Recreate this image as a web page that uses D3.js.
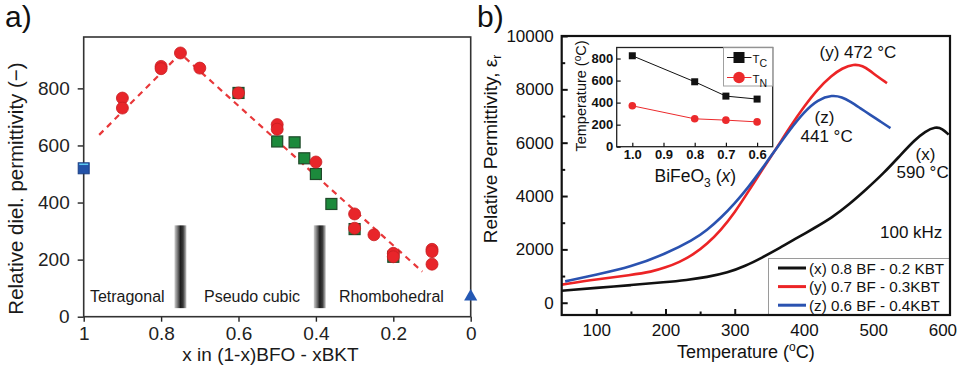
<!DOCTYPE html>
<html>
<head>
<meta charset="utf-8">
<script src="https://cdn.jsdelivr.net/npm/d3@7"></script>
<style>
  body { margin: 0; background: #fff; }
  svg { display: block; }
</style>
</head>
<body>
<svg id="fig" width="961" height="368"></svg>
<script>
// ---------- Panel a: permittivity across the (1-x)BFO - xBKT series ----------
const compTicks = [1, 0.8, 0.6, 0.4, 0.2, 0];
const permTicks = [0, 200, 400, 600, 800];
const circleX = [0.9, 0.9, 0.8, 0.8, 0.75, 0.7, 0.6, 0.5, 0.5, 0.4, 0.3, 0.3, 0.25, 0.2, 0.2, 0.1, 0.1, 0.1];
const circleY = [766, 731, 877, 869, 924, 871, 784, 673, 657, 542, 360, 310, 287, 222, 210, 236, 228, 184];
const squareX = [0.6, 0.5, 0.455, 0.43, 0.4, 0.36, 0.3, 0.2];
const squareY = [784, 614, 611, 555, 500, 395, 307, 210];
const trendX = [0.96, 0.75, 0.125];
const trendY = [637, 922, 158];
const bfoPoint = [1, 520];
const bktPoint = [0, 70];
const phaseBoundaries = [0.75, 0.39];
const boundarySpan = [30, 320];
const phaseNames = ["Tetragonal", "Pseudo cubic", "Rhombohedral"];

// ---------- Panel b: permittivity vs temperature at 100 kHz ----------
const tempTicks = [100, 200, 300, 400, 500, 600];
const tempMinor = [150, 250, 350, 450, 550];
const epsTicks = [0, 2000, 4000, 6000, 8000, 10000];
const epsMinor = [1000, 3000, 5000, 7000, 9000];

const tempX = [50, 100, 150, 200, 230, 260, 290, 315, 340, 365, 390, 415, 440, 465, 490, 515, 540, 560, 575, 590, 600, 609];
const epsX  = [450, 560, 660, 770, 850, 960, 1130, 1370, 1700, 2050, 2430, 2800, 3180, 3680, 4250, 4850, 5550, 6100, 6420, 6600, 6530, 6300];

const tempY = [50, 100, 150, 180, 200, 220, 240, 260, 280, 300, 320, 340, 360, 380, 400, 420, 440, 455, 472, 485, 495, 505, 520];
const epsY  = [680, 880, 1040, 1160, 1320, 1520, 1800, 2200, 2720, 3380, 4180, 5000, 5780, 6600, 7350, 8020, 8520, 8790, 8950, 8880, 8710, 8500, 8232];

const tempZ = [55, 100, 150, 200, 240, 260, 280, 300, 320, 340, 360, 380, 400, 420, 441, 455, 467, 481, 496, 510, 525];
const epsZ  = [800, 1050, 1340, 1830, 2353, 2720, 3180, 3720, 4340, 5040, 5780, 6500, 7150, 7620, 7790, 7710, 7542, 7300, 7043, 6800, 6545];

const seriesLabels = ["(x) 0.8 BF - 0.2 KBT", "(y) 0.7 BF - 0.3KBT", "(z) 0.6 BF - 0.4KBT"];

// inset: transition temperatures vs BiFeO3 fraction
const insetComp = [1.0, 0.8, 0.7, 0.6];
const tcValues = [825, 589, 459, 432];
const tnValues = [371, 253, 241, 225];
const insetTempTicks = [0, 200, 400, 600, 800];
const insetCompTicks = [1.0, 0.9, 0.8, 0.7, 0.6];

// ---------------------------------------------------------------------
const FONT = "'Liberation Sans', Arial, Helvetica, sans-serif";
const svg = d3.select("#fig").attr("font-family", FONT);
const defs = svg.append("defs");

const grad = defs.append("linearGradient").attr("id", "boundaryFill")
  .attr("x1", "0%").attr("x2", "100%").attr("y1", "0%").attr("y2", "0%");
[["0%", "#d0d0d0"], ["30%", "#6a6a6a"], ["50%", "#1e1e1e"], ["72%", "#3a3a3a"], ["100%", "#c8c8c8"]]
  .forEach(([o, c]) => grad.append("stop").attr("offset", o).attr("stop-color", c));

function styleAxis(g, size, color, weight) {
  g.attr("font-family", FONT).attr("font-size", size);
  g.selectAll("text").attr("fill", color).attr("font-weight", weight || "normal");
  g.selectAll("line").attr("stroke", color);
}

// ===== Panel a =====
const xA = d3.scaleLinear().domain([1, 0]).range([83.7, 470.7]);
const yA = d3.scaleLinear().domain([0, 980]).range([316.7, 37]);
const gA = svg.append("g");

gA.append("g").attr("transform", `translate(${xA(1)},0)`)
  .call(d3.axisLeft(yA).tickValues(permTicks).tickSize(6).tickSizeOuter(0).tickPadding(8))
  .call(g => { g.select(".domain").remove(); styleAxis(g, 19, "#222"); g.selectAll("line").attr("stroke-width", 1.4); });

gA.append("g").attr("transform", `translate(0,${yA(0)})`)
  .call(d3.axisBottom(xA).tickValues(compTicks).tickSize(5).tickSizeOuter(0).tickPadding(5)
    .tickFormat(d => d3.format("~g")(d)))
  .call(g => { g.select(".domain").remove(); styleAxis(g, 19, "#222"); g.selectAll("line").attr("stroke-width", 1.4); });

gA.append("rect")
  .attr("x", xA(1)).attr("y", yA(980))
  .attr("width", xA(0) - xA(1)).attr("height", yA(0) - yA(980))
  .attr("fill", "none").attr("stroke", "#333").attr("stroke-width", 1.6);

// phase boundary bars
gA.selectAll("rect.boundary").data(phaseBoundaries).join("rect")
  .attr("class", "boundary")
  .attr("x", d => xA(d) - 6).attr("width", 12)
  .attr("y", yA(boundarySpan[1])).attr("height", yA(boundarySpan[0]) - yA(boundarySpan[1]))
  .attr("fill", "url(#boundaryFill)");

// phase names
const phaseAt = [[0.984, "start"], [0.565, "middle"], [0.205, "middle"]];
gA.selectAll("text.phase").data(phaseNames).join("text")
  .attr("class", "phase")
  .attr("x", (d, i) => xA(phaseAt[i][0])).attr("y", 302)
  .attr("text-anchor", (d, i) => phaseAt[i][1])
  .attr("font-size", 16).attr("fill", "#1a1a1a")
  .text(d => d);

// dashed trend line
gA.append("path")
  .datum(trendX.map((x, i) => [x, trendY[i]]))
  .attr("d", d3.line().x(d => xA(d[0])).y(d => yA(d[1])))
  .attr("fill", "none").attr("stroke", "#e8383a").attr("stroke-width", 2.2)
  .attr("stroke-dasharray", "6,5");

// green squares
gA.selectAll("rect.sq").data(squareX.map((x, i) => [x, squareY[i]])).join("rect")
  .attr("class", "sq")
  .attr("x", d => xA(d[0]) - 5.5).attr("y", d => yA(d[1]) - 5.5)
  .attr("width", 11).attr("height", 11)
  .attr("fill", "#1c8a3c").attr("stroke", "#1f4a2a").attr("stroke-width", 1.2);

// red circles
gA.selectAll("circle.pt").data(circleX.map((x, i) => [x, circleY[i]])).join("circle")
  .attr("class", "pt")
  .attr("cx", d => xA(d[0])).attr("cy", d => yA(d[1])).attr("r", 6)
  .attr("fill", "#e8252a").attr("stroke", "#c81e22").attr("stroke-width", 0.8);

// end members
gA.append("rect")
  .attr("x", xA(bfoPoint[0]) - 5.5).attr("y", yA(bfoPoint[1]) - 5.5)
  .attr("width", 11).attr("height", 11)
  .attr("fill", "#2352a8").attr("stroke", "#1b3f86").attr("stroke-width", 1);
gA.append("line")
  .attr("x1", xA(bfoPoint[0]) - 4.5).attr("x2", xA(bfoPoint[0]) + 4.5)
  .attr("y1", yA(bfoPoint[1]) - 4).attr("y2", yA(bfoPoint[1]) - 4)
  .attr("stroke", "#5cc8f0").attr("stroke-width", 1.5);
gA.append("path")
  .attr("transform", `translate(${xA(bktPoint[0])},${yA(bktPoint[1])})`)
  .attr("d", d3.symbol(d3.symbolTriangle, 75)())
  .attr("fill", "#2458b4");

// titles
gA.append("text").attr("x", 270.5).attr("y", 361).attr("text-anchor", "middle")
  .attr("font-size", 19).attr("fill", "#1a1a1a").text("x in (1-x)BFO - xBKT");
gA.append("text").attr("transform", "translate(23,188.5) rotate(-90)").attr("text-anchor", "middle")
  .attr("font-size", 20.5).attr("fill", "#1a1a1a").text("Relative diel. permittivity (\u2212)");
gA.append("text").attr("x", 5).attr("y", 27).attr("font-size", 30).attr("fill", "#111").text("a)");

// ===== Panel b =====
const xB = d3.scaleLinear().domain([50, 611]).range([561.7, 950]);
const yB = d3.scaleLinear().domain([-460, 10000]).range([315, 36]);
const gB = svg.append("g");

gB.append("g").attr("transform", `translate(${xB(50)},0)`)
  .call(d3.axisLeft(yB).tickValues(epsTicks).tickSize(-6).tickSizeOuter(0).tickPadding(8).tickFormat(d3.format("d")))
  .call(g => { g.select(".domain").remove(); styleAxis(g, 17, "#111"); g.selectAll("line").attr("stroke-width", 2); });
gB.append("g").attr("transform", `translate(${xB(50)},0)`)
  .call(d3.axisLeft(yB).tickValues(epsMinor).tickSize(-3.5).tickSizeOuter(0).tickFormat(""))
  .call(g => { g.select(".domain").remove(); g.selectAll("line").attr("stroke", "#111").attr("stroke-width", 2); });
gB.append("g").attr("transform", `translate(0,${yB(-460)})`)
  .call(d3.axisBottom(xB).tickValues(tempTicks).tickSize(-6).tickSizeOuter(0).tickPadding(9))
  .call(g => { g.select(".domain").remove(); styleAxis(g, 17, "#111"); g.selectAll("line").attr("stroke-width", 2); });
gB.append("g").attr("transform", `translate(0,${yB(-460)})`)
  .call(d3.axisBottom(xB).tickValues(tempMinor).tickSize(-3.5).tickSizeOuter(0).tickFormat(""))
  .call(g => { g.select(".domain").remove(); g.selectAll("line").attr("stroke", "#111").attr("stroke-width", 2); });

// curves (smoothed through the measured points)
const lineB = d3.line().x(d => xB(d[0])).y(d => yB(d[1])).curve(d3.curveBasis);
const curves = [
  { t: tempX, e: epsX, color: "#111111" },
  { t: tempY, e: epsY, color: "#ec2426" },
  { t: tempZ, e: epsZ, color: "#2a52b0" }
];
gB.selectAll("path.curve").data(curves).join("path")
  .attr("class", "curve")
  .attr("d", c => lineB(c.t.map((t, i) => [t, c.e[i]])))
  .attr("fill", "none").attr("stroke", c => c.color).attr("stroke-width", 2.6)
  .attr("stroke-linejoin", "round");

// legend
const lg = gB.append("g");
lg.append("rect").attr("x", 768.5).attr("y", 258.5).attr("width", 181).attr("height", 56)
  .attr("fill", "#fff").attr("stroke", "#9a9a9a").attr("stroke-width", 1);
seriesLabels.forEach((lab, i) => {
  const yy = 268 + i * 18.6;
  lg.append("line").attr("x1", 778).attr("x2", 806).attr("y1", yy).attr("y2", yy)
    .attr("stroke", curves[i].color).attr("stroke-width", 3);
  lg.append("text").attr("x", 809).attr("y", yy + 5.5).attr("font-size", 15.2).attr("fill", "#111").text(lab);
});

// frame
gB.append("rect").attr("x", xB(50)).attr("y", yB(10000))
  .attr("width", xB(611) - xB(50)).attr("height", yB(-460) - yB(10000))
  .attr("fill", "none").attr("stroke", "#111").attr("stroke-width", 2.2);

// peak annotations
const ann = [
  { x: 819.5, y: 58.3, a: "start", s: "(y) 472 \u00B0C" },
  { x: 824.5, y: 123.3, a: "middle", s: "(z)" },
  { x: 800.5, y: 141.7, a: "start", s: "441 \u00B0C" },
  { x: 925.5, y: 160, a: "middle", s: "(x)" },
  { x: 896.5, y: 178.3, a: "start", s: "590 \u00B0C" },
  { x: 880, y: 238, a: "start", s: "100 kHz" }
];
gB.selectAll("text.ann").data(ann).join("text")
  .attr("class", "ann")
  .attr("x", d => d.x).attr("y", d => d.y).attr("text-anchor", d => d.a)
  .attr("font-size", 17).attr("fill", "#111").text(d => d.s);

// axis titles
const xt = gB.append("text").attr("x", 745.8).attr("y", 358).attr("text-anchor", "middle")
  .attr("font-size", 18).attr("fill", "#111");
xt.append("tspan").text("Temperature (");
xt.append("tspan").attr("font-size", 12).attr("dy", -7).text("o");
xt.append("tspan").attr("dy", 7).text("C)");

const yt = gB.append("text").attr("transform", "translate(497,149) rotate(-90)").attr("text-anchor", "middle")
  .attr("font-size", 19).attr("fill", "#111");
yt.append("tspan").text("Relative Permittivity, \u03B5");
yt.append("tspan").attr("font-size", 12).attr("dy", 4).text("r");

gB.append("text").attr("x", 477).attr("y", 27).attr("font-size", 30).attr("fill", "#111").text("b)");

// ===== Inset =====
const xI = d3.scaleLinear().domain([1.05, 0.55]).range([616.7, 772.7]);
const yI = d3.scaleLinear().domain([0, 900]).range([146.7, 47.5]);
const gI = gB.append("g");

gI.append("rect").attr("x", xI(1.05)).attr("y", yI(900))
  .attr("width", xI(0.55) - xI(1.05)).attr("height", yI(0) - yI(900))
  .attr("fill", "#fff").attr("stroke", "#222").attr("stroke-width", 1.3);

gI.append("g").attr("transform", `translate(${xI(1.05)},0)`)
  .call(d3.axisLeft(yI).tickValues(insetTempTicks).tickSize(-4).tickSizeOuter(0).tickPadding(3.5))
  .call(g => { g.select(".domain").remove(); styleAxis(g, 13, "#111", "bold"); g.selectAll("line").attr("stroke-width", 1.2); });
gI.append("g").attr("transform", `translate(0,${yI(0)})`)
  .call(d3.axisBottom(xI).tickValues(insetCompTicks).tickSize(-4).tickSizeOuter(0).tickPadding(3)
    .tickFormat(d3.format(".1f")))
  .call(g => { g.select(".domain").remove(); styleAxis(g, 13, "#111", "bold"); g.selectAll("line").attr("stroke-width", 1.2); });

const lineI = d3.line().x(d => xI(d[0])).y(d => yI(d[1]));
const tcPts = insetComp.map((c, i) => [c, tcValues[i]]);
const tnPts = insetComp.map((c, i) => [c, tnValues[i]]);
gI.append("path").attr("d", lineI(tcPts)).attr("fill", "none").attr("stroke", "#111").attr("stroke-width", 1);
gI.append("path").attr("d", lineI(tnPts)).attr("fill", "none").attr("stroke", "#ec2a2c").attr("stroke-width", 1);
gI.selectAll("rect.tc").data(tcPts).join("rect").attr("class", "tc")
  .attr("x", d => xI(d[0]) - 3.5).attr("y", d => yI(d[1]) - 3.5).attr("width", 7).attr("height", 7)
  .attr("fill", "#111");
gI.selectAll("circle.tn").data(tnPts).join("circle").attr("class", "tn")
  .attr("cx", d => xI(d[0])).attr("cy", d => yI(d[1])).attr("r", 3.8)
  .attr("fill", "#ec2a2c");

// inset legend
const il = gI.append("g");
il.append("rect").attr("x", 723.5).attr("y", 47.7).attr("width", 49.2).attr("height", 38.3)
  .attr("fill", "#fff").attr("stroke", "#a0a0a0").attr("stroke-width", 1);
il.append("line").attr("x1", 727).attr("x2", 751.5).attr("y1", 57.5).attr("y2", 57.5).attr("stroke", "#111").attr("stroke-width", 1);
il.append("rect").attr("x", 733.5).attr("y", 52).attr("width", 11).attr("height", 11).attr("fill", "#111");
il.append("line").attr("x1", 727).attr("x2", 751.5).attr("y1", 77.5).attr("y2", 77.5).attr("stroke", "#ec2a2c").attr("stroke-width", 1);
il.append("circle").attr("cx", 739).attr("cy", 77.5).attr("r", 5.8).attr("fill", "#ec2a2c");
const tcl = il.append("text").attr("x", 752.5).attr("y", 62.5).attr("font-size", 11.5).attr("fill", "#111");
tcl.append("tspan").text("T");
tcl.append("tspan").attr("font-size", 10.5).attr("dy", 4).text("C");
const tnl = il.append("text").attr("x", 752.5).attr("y", 82.5).attr("font-size", 11.5).attr("fill", "#111");
tnl.append("tspan").text("T");
tnl.append("tspan").attr("font-size", 10.5).attr("dy", 4).text("N");

// inset titles
const iyt = gI.append("text").attr("transform", "translate(586,96) rotate(-90)").attr("text-anchor", "middle")
  .attr("font-size", 14.5).attr("fill", "#111");
iyt.append("tspan").text("Temperature (");
iyt.append("tspan").attr("font-size", 10).attr("dy", -5).text("o");
iyt.append("tspan").attr("dy", 5).text("C)");

const ixt = gI.append("text").attr("x", 654.5).attr("y", 181.7).attr("font-size", 17.5).attr("fill", "#111");
ixt.append("tspan").text("BiFeO");
ixt.append("tspan").attr("font-size", 12).attr("dy", 5).text("3");
ixt.append("tspan").attr("dy", -5).text(" (");
ixt.append("tspan").attr("font-style", "italic").text("x");
ixt.append("tspan").text(")");
</script>
</body>
</html>
